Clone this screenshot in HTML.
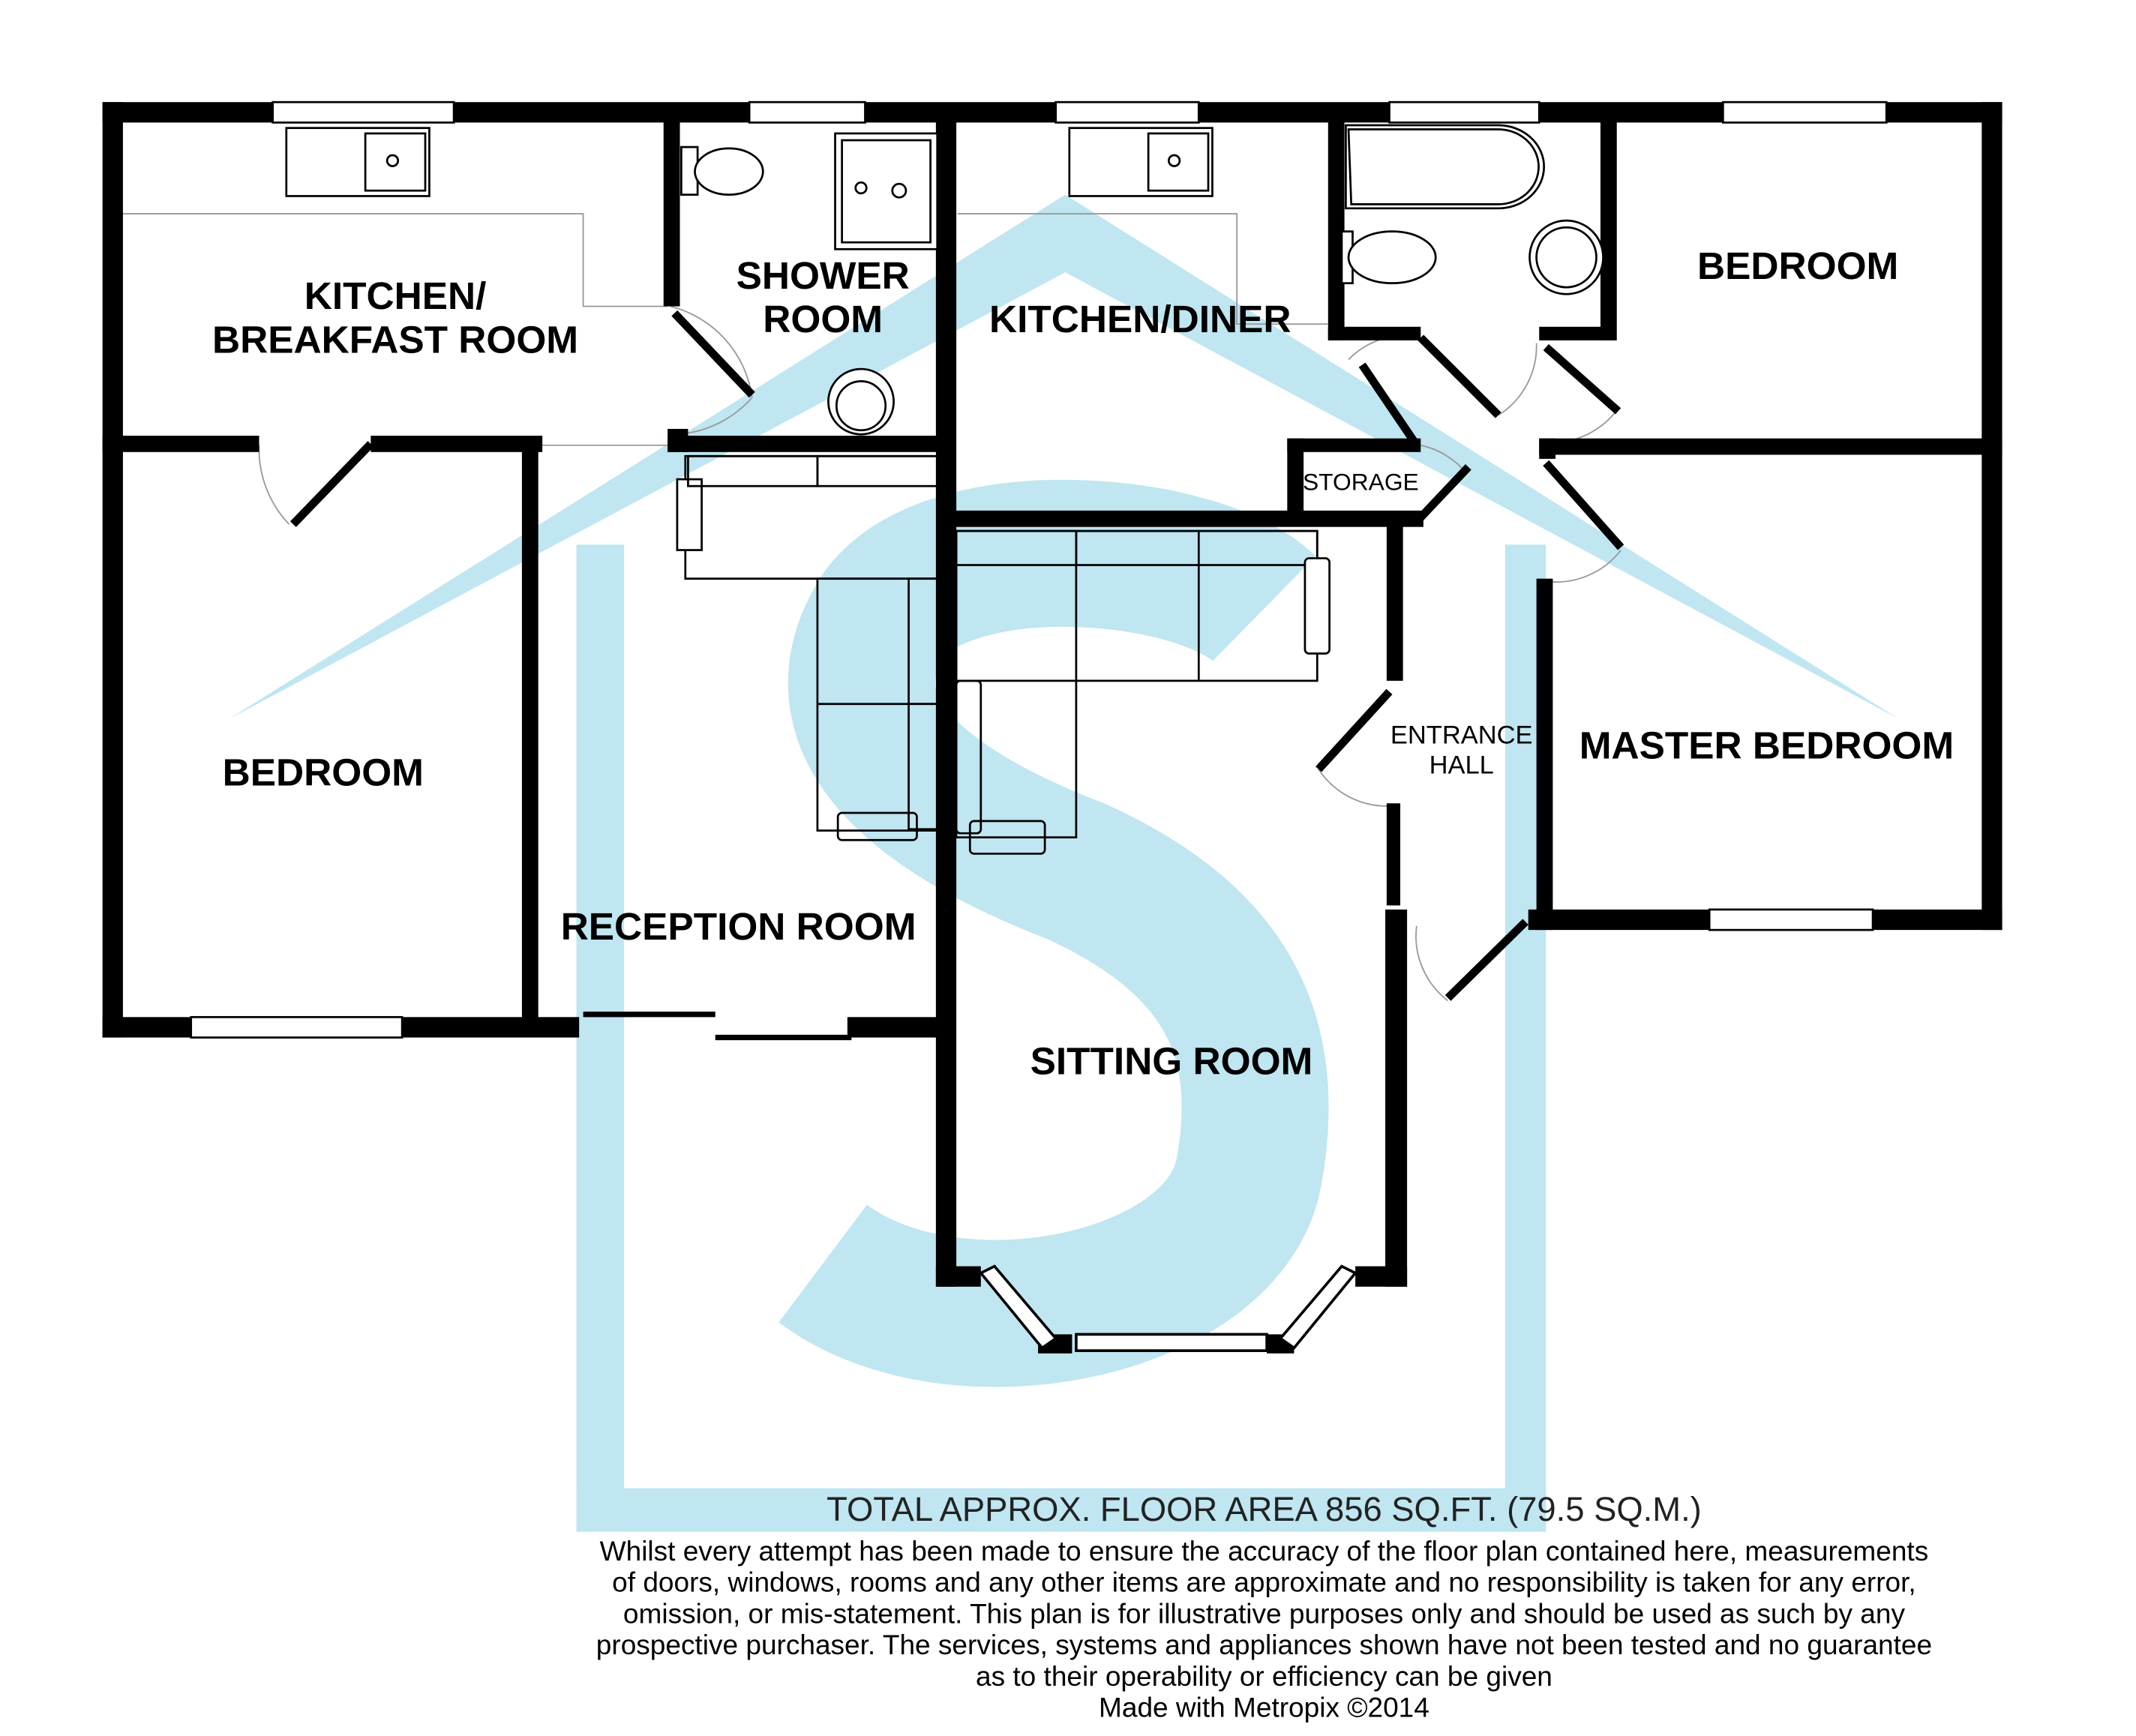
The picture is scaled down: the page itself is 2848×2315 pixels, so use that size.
<!DOCTYPE html>
<html><head><meta charset="utf-8"><style>
html,body{margin:0;padding:0;background:#fff;}
svg{display:block;}
text{font-family:"Liberation Sans",Arial,sans-serif;}
</style></head><body>
<svg width="2848" height="2315" viewBox="0 0 1568 1275" xmlns="http://www.w3.org/2000/svg">
<rect width="1568" height="1275" fill="#fff"/>
<!-- watermark -->
<g fill="#bfe6f1" stroke="none">
<polygon points="168,528 782,143 1394,528 782,200"/>
<rect x="423" y="400" width="35" height="725"/>
<rect x="1105" y="400" width="30" height="725"/>
<rect x="423" y="1093" width="712" height="32"/>
</g>
<path d="M928,447 C880,400 700,385 650,450 C600,525 660,590 790,640 C900,690 935,760 917,860 C900,960 700,1000 604,928" fill="none" stroke="#bfe6f1" stroke-width="108"/>

<!-- thin counter lines -->
<g stroke="#999" stroke-width="1" fill="none">
<polyline points="90,157 428,157 428,225 490,225"/>
<polyline points="703,157 908,157 908,238 975,238"/>
<line x1="398" y1="327" x2="490" y2="327"/>
<path d="M190,327 A80,80 0 0 0 212,385"/>
<path d="M492,225 A80,80 0 0 1 552,292 M505,318 A80,80 0 0 0 552,292"/>
<path d="M990,264 A60,60 0 0 1 1043,247"/>
<path d="M1100,305 A60,60 0 0 0 1128,252"/>
<path d="M1140,325 A60,60 0 0 0 1188,300"/>
<path d="M1043,327 A60,60 0 0 1 1077,348"/>
<path d="M1135,427 A60,60 0 0 0 1190,404"/>
<path d="M968,565 A60,60 0 0 0 1020,592"/>
<path d="M1040,680 A60,60 0 0 0 1063,735"/>
</g>

<!-- walls -->
<g fill="#000">
<rect x="75" y="75" width="1395" height="15"/>
<rect x="75" y="75" width="15" height="687"/>
<rect x="1455" y="75" width="15" height="608"/>
<rect x="75" y="747" width="350" height="15"/>
<rect x="75" y="320" width="115" height="12"/>
<rect x="272" y="320" width="126" height="12"/>
<rect x="490" y="315" width="15" height="17"/>
<rect x="490" y="320" width="205" height="12"/>
<rect x="383" y="330" width="12" height="425"/>
<rect x="487" y="82" width="12" height="143"/>
<rect x="687" y="82" width="15" height="863"/>
<rect x="622" y="747" width="70" height="15"/>
<rect x="700" y="375" width="345" height="12"/>
<rect x="945" y="322" width="12" height="60"/>
<rect x="945" y="322" width="98" height="10"/>
<rect x="975" y="82" width="12" height="168"/>
<rect x="975" y="240" width="68" height="10"/>
<rect x="1130" y="240" width="55" height="10"/>
<rect x="1175" y="82" width="12" height="168"/>
<rect x="1130" y="322" width="340" height="12"/>
<rect x="1130" y="322" width="12" height="15"/>
<rect x="1128" y="425" width="12" height="258"/>
<rect x="1122" y="668" width="348" height="15"/>
<rect x="1018" y="385" width="12" height="115"/>
<rect x="1018" y="590" width="10" height="75"/>
<rect x="1017" y="668" width="16" height="277"/>
<rect x="687" y="930" width="33" height="15"/>
<rect x="995" y="930" width="38" height="15"/>
<rect x="762" y="980" width="25" height="14"/>
<rect x="930" y="980" width="20" height="14"/>
</g>
<g stroke="#000" stroke-width="6" fill="none">
<line x1="272" y1="326" x2="215" y2="385"/>
<line x1="495" y1="230" x2="552" y2="290"/>
<line x1="1000" y1="268" x2="1040" y2="327"/>
<line x1="1043" y1="248" x2="1100" y2="305"/>
<line x1="1135" y1="255" x2="1188" y2="302"/>
<line x1="1078" y1="343" x2="1043" y2="380"/>
<line x1="1135" y1="340" x2="1190" y2="402"/>
<line x1="1020" y1="508" x2="968" y2="565"/>
<line x1="1120" y1="677" x2="1063" y2="733"/>
<line x1="428" y1="745" x2="525" y2="745" stroke-width="4"/>
<line x1="525" y1="762" x2="625" y2="762" stroke-width="4"/>
</g>
<!-- bay window -->
<g stroke="#000" fill="#fff" stroke-width="2">
<polygon points="720,935 730,930 775,983 765,990"/>
<polygon points="995,935 985,930 940,983 950,990"/>
<rect x="790" y="980" width="140" height="12"/>
</g>
<!-- windows -->
<g fill="#fff" stroke="#000" stroke-width="1.5">
<rect x="200" y="75" width="133" height="15"/>
<rect x="550" y="75" width="85" height="15"/>
<rect x="775" y="75" width="105" height="15"/>
<rect x="1020" y="75" width="110" height="15"/>
<rect x="1265" y="75" width="120" height="15"/>
<rect x="140" y="747" width="155" height="15"/>
<rect x="1255" y="668" width="120" height="15"/>
</g>

<!-- fixtures -->
<g stroke="#000" stroke-width="1.5" fill="#fff">
<rect x="210" y="94" width="105" height="50"/>
<rect x="268" y="98" width="44" height="42"/>
<circle cx="288" cy="118" r="4"/>
<rect x="785" y="94" width="105" height="50"/>
<rect x="843" y="98" width="44" height="42"/>
<circle cx="862" cy="118" r="4"/>
<rect x="613" y="98" width="75" height="85"/>
<rect x="618" y="103" width="65" height="75"/>
<circle cx="632" cy="138" r="4"/><circle cx="660" cy="140" r="5"/>
<rect x="500" y="108" width="12" height="35"/>
<ellipse cx="535" cy="126" rx="25" ry="17"/>
<circle cx="632" cy="295" r="24"/>
<circle cx="632" cy="298" r="18"/>
<path d="M988,92 H1100 A33,30 0 0 1 1100,153 H988 Z"/>
<path d="M990,95 H1100 A28,26 0 0 1 1100,150 H992 Z"/>
<rect x="985" y="170" width="8" height="38"/>
<ellipse cx="1022" cy="189" rx="32" ry="19"/>
<circle cx="1150" cy="189" r="27"/>
<circle cx="1150" cy="189" r="22"/>
</g>
<!-- sofas (transparent so watermark shows) -->
<g stroke="#000" stroke-width="1.5" fill="none">
<rect x="503" y="335" width="185" height="90"/>
<rect x="497" y="352" width="18" height="52" fill="#fff"/>
<rect x="505" y="335" width="95" height="22"/>
<rect x="600" y="335" width="88" height="22"/>
<rect x="600" y="425" width="88" height="185"/>
<rect x="667" y="425" width="21" height="92"/>
<rect x="667" y="517" width="21" height="92"/>
<line x1="600" y1="517" x2="667" y2="517"/>
<rect x="615" y="597" width="58" height="20" rx="3"/>
<rect x="702" y="390" width="265" height="110"/>
<rect x="702" y="390" width="88" height="225"/>
<rect x="702" y="390" width="265" height="25"/>
<line x1="790" y1="390" x2="790" y2="415"/><line x1="880" y1="390" x2="880" y2="500"/>
<rect x="958" y="410" width="18" height="70" rx="3" fill="#fff"/>
<rect x="702" y="500" width="18" height="112" rx="3"/>
<rect x="712" y="603" width="55" height="24" rx="3"/>
</g>

<!-- labels -->
<g font-weight="bold" font-size="28.3" text-anchor="middle" fill="#000">
<text x="290" y="227">KITCHEN/</text>
<text x="290" y="259">BREAKFAST ROOM</text>
<text x="604" y="212">SHOWER</text>
<text x="604" y="244">ROOM</text>
<text x="837" y="244">KITCHEN/DINER</text>
<text x="1320" y="205">BEDROOM</text>
<text x="237" y="577">BEDROOM</text>
<text x="542" y="690">RECEPTION ROOM</text>
<text x="860" y="789">SITTING ROOM</text>
<text x="1297" y="557">MASTER BEDROOM</text>
</g>
<g font-size="17.5" text-anchor="middle" fill="#000">
<text x="999" y="360">STORAGE</text>
<text x="1073" y="546" font-size="19">ENTRANCE</text>
<text x="1073" y="568" font-size="19">HALL</text>
</g>
<g font-size="25" text-anchor="middle" fill="#222">
<text x="928" y="1117">TOTAL APPROX. FLOOR AREA 856 SQ.FT. (79.5 SQ.M.)</text>
</g>
<g font-size="20.4" text-anchor="middle" fill="#000">
<text x="928" y="1146">Whilst every attempt has been made to ensure the accuracy of the floor plan contained here, measurements</text>
<text x="928" y="1169">of doors, windows, rooms and any other items are approximate and no responsibility is taken for any error,</text>
<text x="928" y="1192">omission, or mis-statement. This plan is for illustrative purposes only and should be used as such by any</text>
<text x="928" y="1215">prospective purchaser. The services, systems and appliances shown have not been tested and no guarantee</text>
<text x="928" y="1238">as to their operability or efficiency can be given</text>
<text x="928" y="1261">Made with Metropix ©2014</text>
</g>
</svg>
</body></html>
